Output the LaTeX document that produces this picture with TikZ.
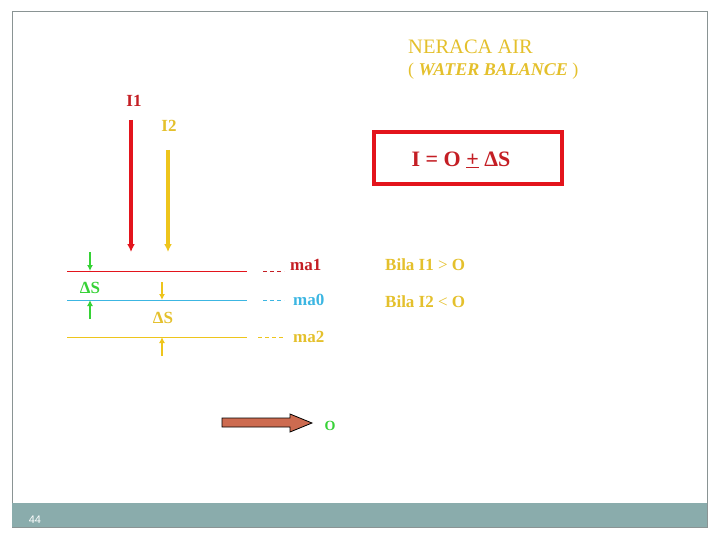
\documentclass[tikz,border=0pt]{standalone}
\usepackage{fontspec}
\setmainfont{Liberation Serif}
\newfontfamily\slidesans{Liberation Sans}
\usetikzlibrary{arrows,arrows.meta,calc,positioning,shapes}
\definecolor{TZRed}{HTML}{E3141C}
\definecolor{TZDarkRed}{HTML}{C41E24}
\definecolor{TZGold}{HTML}{EEC51C}
\definecolor{TZGoldText}{HTML}{E4C02C}
\definecolor{TZBlue}{HTML}{3CB6E2}
\definecolor{TZGreen}{HTML}{36D236}
\definecolor{TZBrown}{HTML}{CD6B50}
\definecolor{TZFrame}{HTML}{8A9494}
\definecolor{TZBar}{HTML}{8AACAC}
\tikzset{
    input/.style = {coordinate},
    level/.style = {draw, line width=1pt},
    gap/.style = {draw, dash pattern=on 4pt off 3pt, line width=0.8pt},
    flow/.style = {draw, -{Latex[length=8pt,width=8pt]}, line width=4pt},
    delta/.style = {draw, -{Latex[length=6pt,width=6pt]}, line width=1.3pt},
    tag/.style = {inner sep=0pt, font=\fontsize{17}{19}\selectfont\bfseries},
    box/.style = {draw, rectangle, line width=4pt, minimum width=188pt, minimum height=52pt}
}

\begin{document}
\begin{tikzpicture}[x=1pt, y=-1pt, >=latex']
        \useasboundingbox (0,0) rectangle (720,540);
        % slide frame and footer
        \draw [TZFrame, line width=1pt] (12,12) rectangle (707,527);
        \fill [TZBar] (12,503) rectangle (707,527);
        \node [inner sep=0pt, text=white, font=\slidesans\fontsize{11}{12}\selectfont, name=page] at (35,520) {44};

        % title
        \node [inner sep=0pt, anchor=west, text=TZGoldText, font=\fontsize{20.5}{22}\selectfont, name=title] at (408,47) {NERACA AIR};
        \node [inner sep=0pt, anchor=west, text=TZGoldText, font=\fontsize{18}{20}\selectfont, name=subtitle] at (408,71) {( \textbf{\textit{WATER BALANCE}} )};

        % balance equation
        \node [box, draw=TZRed, name=eqbox] at (468,158) {};
        \node [tag, text=TZDarkRed, font=\fontsize{22}{24}\selectfont\bfseries, name=eq] at (461,160) {I = O \underline{+} ΔS};

        % inflows
        \node [tag, text=TZDarkRed, name=inone] at (134,101) {I1};
        \node [tag, text=TZGoldText, name=intwo] at (169,126) {I2};
        \node [input, name=inonetop] at (131,120) {};
        \node [input, name=inonebot] at (131,252) {};
        \node [input, name=intwotop] at (168,150) {};
        \node [input, name=intwobot] at (168,252) {};
        \draw [flow, TZRed] (inonetop) -- (inonebot);
        \draw [flow, TZGold] (intwotop) -- (intwobot);

        % storage levels
        \foreach \y/\col/\n in {271/TZRed/one, 300/TZBlue/zero, 337/TZGold/two}{
            \node [input, name=lvl\n L] at (67,\y) {};
            \node [input, name=lvl\n R] at (247,\y) {};
            \draw [level, draw=\col] (lvl\n L) -- (lvl\n R);
        }
        \draw [gap, draw=TZDarkRed] (263,271) -- (284,271);
        \draw [gap, draw=TZBlue] (263,300) -- (284,300);
        \draw [gap, draw=TZGold] (258,337) -- (284,337);
        \node [tag, anchor=west, text=TZDarkRed, name=maone] at (290,265) {ma1};
        \node [tag, anchor=west, text=TZBlue, name=mazero] at (293,300) {ma0};
        \node [tag, anchor=west, text=TZGoldText, name=matwo] at (293,337) {ma2};

        % storage changes
        \node [tag, text=TZGreen, name=dsup] at (90,288) {ΔS};
        \node [input, name=gdtop] at (90,252) {};
        \node [input, name=gdbot] at (90,271) {};
        \node [input, name=gutop] at (90,300) {};
        \node [input, name=gubot] at (90,319) {};
        \draw [delta, TZGreen] (gdtop) -- (gdbot);
        \draw [delta, TZGreen] (gubot) -- (gutop);
        \node [tag, text=TZGoldText, name=dsdown] at (163,318) {ΔS};
        \node [input, name=ydtop] at (162,282) {};
        \node [input, name=ydbot] at (162,300) {};
        \node [input, name=yutop] at (162,337) {};
        \node [input, name=yubot] at (162,356) {};
        \draw [delta, TZGold] (ydtop) -- (ydbot);
        \draw [delta, TZGold] (yubot) -- (yutop);

        % conditions
        \node [tag, anchor=west, text=TZGoldText, name=condone] at (385,265) {Bila I1 \textmd{>} O};
        \node [tag, anchor=west, text=TZGoldText, name=condtwo] at (385,302) {Bila I2 \textmd{<} O};

        % outflow
        \draw [fill=TZBrown, draw=black, line width=0.8pt] (222,418) -- (290,418) -- (290,414) -- (312,423) -- (290,432) -- (290,427) -- (222,427) -- cycle;
        \node [tag, text=TZGreen, font=\fontsize{14}{16}\selectfont\bfseries, name=out] at (330,426) {O};
    \end{tikzpicture}
\end{document}
